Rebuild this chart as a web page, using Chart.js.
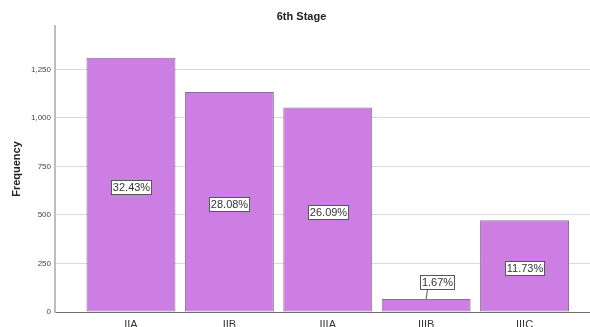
<!DOCTYPE html>
<html lang="en">
<head>
  <meta charset="UTF-8">
  <title>6th Stage</title>
  <script src="https://cdn.jsdelivr.net/npm/chart.js"></script>
  <style>
    html, body {
      margin: 0;
      padding: 0;
      background: #fff;
      overflow: hidden;
    }
    .wrap {
      width: 590px;
      height: 342px;
    }
  </style>
</head>
<body>
  <div class="wrap"><canvas id="stageChart"></canvas></div>

  <script>
    // stage frequencies
    const stages = ['IIA', 'IIB', 'IIIA', 'IIIB', 'IIIC'];
    const counts = [1309, 1133, 1053, 67, 473];
    const percentLabels = ['32.43%', '28.08%', '26.09%', '1.67%', '11.73%'];
    const yTicks = [0, 250, 500, 750, 1000, 1250];

    const barFill = '#cc7ee3';
    const barEdge = '#8b6b94';

    // title drawn above the plot
    const titlePlugin = {
      id: 'stageTitle',
      afterDraw(chart) {
        const ctx = chart.ctx;
        ctx.save();
        ctx.font = 'bold 11px "Liberation Sans", Arial, sans-serif';
        ctx.fillStyle = '#222';
        ctx.textAlign = 'center';
        ctx.textBaseline = 'middle';
        ctx.fillText('6th Stage', 301.5, 17);
        ctx.restore();
      }
    };

    // percentage boxes inside (or above) each bar
    const percentBoxes = {
      id: 'percentBoxes',
      afterDatasetsDraw(chart) {
        const ctx = chart.ctx;
        const yScale = chart.scales.y;
        const bars = chart.getDatasetMeta(0).data;
        ctx.save();
        ctx.font = '11px "Liberation Sans", Arial, sans-serif';
        ctx.textAlign = 'center';
        ctx.textBaseline = 'middle';
        bars.forEach((bar, i) => {
          const text = percentLabels[i];
          const w = Math.round(ctx.measureText(text).width + 3);
          const h = 14;
          const barTop = bar.y;
          const barHeight = bar.base - bar.y;
          let cx = bar.x;
          let cy;
          if (barHeight > h + 10) {
            cy = yScale.getPixelForValue(counts[i] / 2) + 2;
          } else {
            // too small: put the box above with a leader line
            cx = bar.x + 11;
            cy = barTop - 10 - h / 2;
            ctx.strokeStyle = '#555';
            ctx.lineWidth = 1;
            ctx.beginPath();
            ctx.moveTo(bar.x + 1.5, cy + h / 2);
            ctx.lineTo(bar.x, barTop);
            ctx.stroke();
          }
          const left = Math.round(cx - w / 2) + 0.5;
          const top = Math.round(cy - h / 2) + 0.5;
          ctx.fillStyle = '#fff';
          ctx.fillRect(left, top, w, h);
          ctx.strokeStyle = '#555';
          ctx.lineWidth = 1;
          ctx.strokeRect(left, top, w, h);
          ctx.fillStyle = '#333';
          ctx.fillText(text, left + w / 2, top + h / 2 + 0.5);
        });
        ctx.restore();
      }
    };

    const ctx = document.getElementById('stageChart').getContext('2d');
    new Chart(ctx, {
      type: 'bar',
      data: {
        datasets: [{
          label: 'Frequency',
          data: counts.map((v, i) => ({ x: i, y: v })),
          backgroundColor: barFill,
          borderColor: barEdge,
          borderWidth: 1,
          borderSkipped: false,
          categoryPercentage: 1,
          barPercentage: 0.904
        }]
      },
      options: {
        responsive: true,
        maintainAspectRatio: false,
        animation: false,
        layout: { padding: { top: 26, left: 0, right: 0, bottom: 0 } },
        plugins: {
          legend: { display: false },
          tooltip: { enabled: false }
        },
        scales: {
          x: {
            type: 'linear',
            offset: false,
            min: -0.772,
            max: 4.665,
            grid: { display: false, drawTicks: false },
            border: { display: true, color: '#6e6e6e', width: 1 },
            afterBuildTicks(scale) {
              scale.ticks = stages.map((s, i) => ({ value: i }));
            },
            afterFit(scale) { scale.height = 30; },
            ticks: {
              padding: 6,
              maxRotation: 0,
              autoSkip: false,
              color: '#333',
              font: { family: '"Liberation Sans", Arial, sans-serif', size: 11 },
              callback: (v) => stages[v]
            }
          },
          y: {
            min: 0,
            max: 1473,
            afterBuildTicks(scale) {
              scale.ticks = yTicks.map(v => ({ value: v }));
            },
            afterFit(scale) { scale.width = 55; },
            grid: { color: '#d9d9d9', lineWidth: 1, drawTicks: false },
            border: { display: true, color: '#bdbdbd', width: 2 },
            ticks: {
              padding: 4,
              color: '#444',
              font: { family: '"Liberation Sans", Arial, sans-serif', size: 8 },
              callback: (v) => v.toLocaleString('en-US')
            },
            title: {
              display: true,
              text: 'Frequency',
              color: '#222',
              padding: { top: 10, bottom: 0 },
              font: { family: '"Liberation Sans", Arial, sans-serif', size: 11, weight: 'bold' }
            }
          }
        }
      },
      plugins: [titlePlugin, percentBoxes]
    });
  </script>
</body>
</html>
